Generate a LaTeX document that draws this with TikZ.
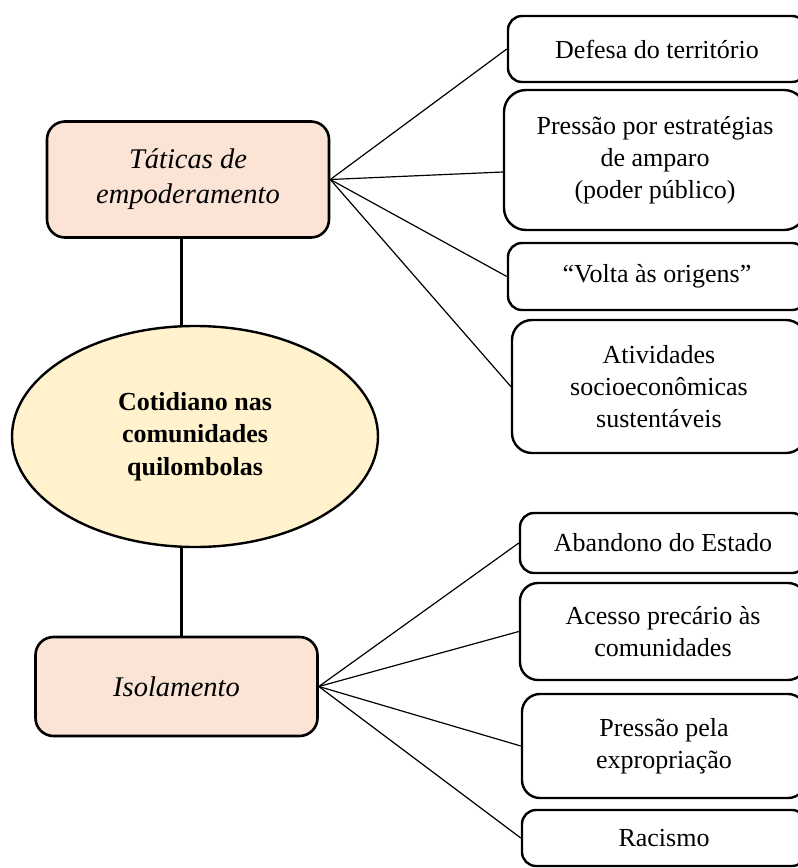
\documentclass[tikz,border=0pt]{standalone}
\usepackage{fontspec}
\setmainfont{Liberation Serif}
\usepackage{tikz}
\usetikzlibrary{shapes.geometric}
\definecolor{peach}{HTML}{FBE4D5}
\definecolor{cream}{HTML}{FFF2CC}
\tikzset{
  tema/.style={rectangle,rounded corners=18pt,minimum width=282pt,minimum height=#1,
    draw=black,fill=peach,text=black,line width=2.6pt,align=center,
    font=\fontsize{28.5}{35}\selectfont\itshape},
  tema/.default={116pt},
  nucleo/.style={ellipse,minimum width=366pt,minimum height=221pt,inner sep=0pt,
    draw=black,fill=cream,line width=2.4pt,align=center,
    font=\fontsize{26}{32.5}\selectfont\bfseries},
  item/.style={rectangle,rounded corners=14pt,minimum width=#1,
    draw=black,fill=white,text=black,line width=2.4pt,align=center,
    font=\fontsize{26}{32}\selectfont},
  item/.default={298pt},
  tronco/.style={line width=3pt,black},
  spoke/.style={line width=1.2pt,black},
}
\begin{document}
\begin{tikzpicture}[x=1pt,y=-1pt]
  \useasboundingbox (0,0) rectangle (798,868);
  % nos centrais
  \node[tema] (tat) at (188,179.5) {T\'aticas de\\empoderamento};
  \node[nucleo] (cot) at (195,436.5) {Cotidiano nas\\comunidades\\quilombolas};
  \node[tema=99pt] (iso) at (176.5,686.5) {Isolamento};
  % itens de empoderamento
  \node[item,minimum height=66pt] (def) at (657,49) {Defesa do territ\'orio};
  \node[item=302pt,minimum height=140pt,rounded corners=22pt] (pre) at (655,160)
    {Press\~ao por estrat\'egias\\de amparo\\(poder p\'ublico)};
  \node[item,minimum height=67pt] (vol) at (657,276.5) {``Volta \`as origens''};
  \node[item=294pt,minimum height=133pt,rounded corners=20pt] (ati) at (659,386.5)
    {Atividades\\socioecon\^omicas\\sustent\'aveis};
  % itens de isolamento
  \node[item=286pt,minimum height=60pt] (aba) at (663,543) {Abandono do Estado};
  \node[item=286pt,minimum height=97pt,rounded corners=18pt] (ace) at (663,631.5)
    {Acesso prec\'ario \`as\\comunidades};
  \node[item=284pt,minimum height=104pt,rounded corners=18pt] (ppe) at (664,746)
    {Press\~ao pela\\expropria\c{c}\~ao};
  \node[item=284pt,minimum height=56pt] (rac) at (664,838) {Racismo};
  % ligacoes
  \draw[tronco] (cot.north -| 181,0) -- (tat.south -| 181,0);
  \draw[tronco] (cot.south -| 181,0) -- (iso.north -| 181,0);
  \draw[spoke] (tat.east) -- (def.west);
  \draw[spoke] (tat.east) -- ([yshift=-12pt]pre.west);
  \draw[spoke] (tat.east) -- (vol.west);
  \draw[spoke] (tat.east) -- (ati.west);
  \draw[spoke] (iso.east) -- (aba.west);
  \draw[spoke] (iso.east) -- (ace.west);
  \draw[spoke] (iso.east) -- (ppe.west);
  \draw[spoke] (iso.east) -- (rac.west);
\end{tikzpicture}
\end{document}
